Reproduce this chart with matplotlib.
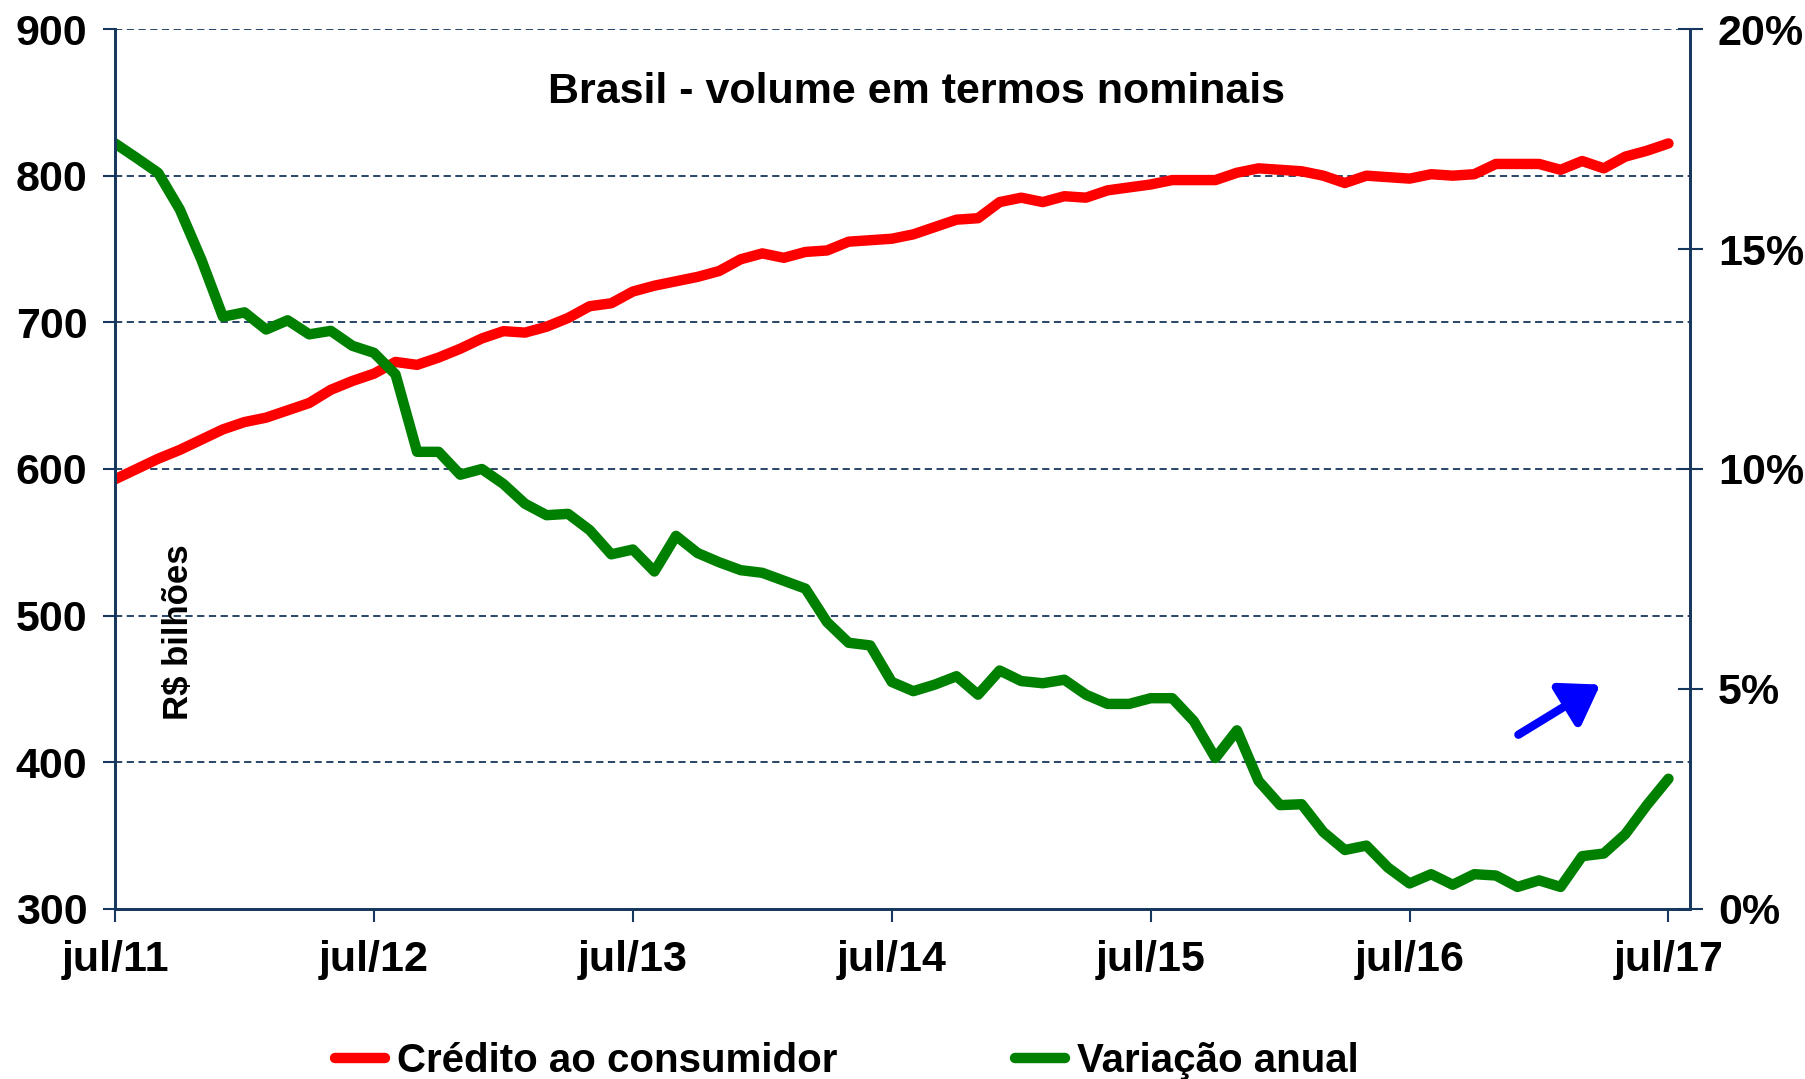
import numpy as np
import matplotlib
matplotlib.use('Agg')
import matplotlib.pyplot as plt
from matplotlib.ticker import FuncFormatter

# meses de jul/11 ate jul/17
x_labels = ['jul/11', 'jul/12', 'jul/13', 'jul/14', 'jul/15', 'jul/16', 'jul/17']

credito = [593, 600, 607, 613, 620, 627, 632, 635, 640, 645, 654, 660, 665, 673, 671,
           676, 682, 689, 694, 693, 697, 703, 711, 713, 721, 725, 728, 731, 735, 743,
           747, 744, 748, 749, 755, 756, 757, 760, 765, 770, 771, 782, 785, 782, 786,
           785, 790, 792, 794, 797, 797, 797, 802, 805, 804, 803, 800, 795, 800, 799,
           798, 801, 800, 801, 808, 808, 808, 804, 810, 805, 813, 817, 822]

variacao = [17.4, 17.07, 16.73, 15.9, 14.76, 13.46, 13.56, 13.17, 13.38, 13.06, 13.14,
            12.8, 12.64, 12.15, 10.39, 10.39, 9.87, 10.0, 9.66, 9.21, 8.95, 8.98, 8.61,
            8.06, 8.17, 7.67, 8.48, 8.09, 7.88, 7.70, 7.64, 7.46, 7.28, 6.52, 6.05, 5.99,
            5.16, 4.95, 5.10, 5.29, 4.87, 5.42, 5.18, 5.13, 5.21, 4.87, 4.66, 4.66, 4.79,
            4.79, 4.27, 3.43, 4.06, 2.91, 2.36, 2.38, 1.75, 1.34, 1.44, 0.94, 0.58, 0.79,
            0.55, 0.79, 0.76, 0.50, 0.65, 0.50, 1.20, 1.26, 1.70, 2.36, 2.96]

AZUL = '#17375E'
plt.rcParams['font.family'] = ['Liberation Sans', 'DejaVu Sans']
plt.rcParams['font.weight'] = 'bold'

meses = np.arange(len(credito))

fig = plt.figure(figsize=(18.06, 10.79), dpi=100)
ax = fig.add_axes([0.0637, 0.1576, 0.9358 - 0.0637, 0.9731 - 0.1576])
ax2 = ax.twinx()

ax.plot(meses, credito, color='#FF0000', lw=7.5, solid_capstyle='round',
        solid_joinstyle='round', label='Crédito ao consumidor')
ax2.plot(meses, variacao, color='#008000', lw=7.5, solid_capstyle='round',
         solid_joinstyle='round', label='Variação anual')

ax.set_xlim(0, 73)
ax.set_ylim(300, 900)
ax2.set_ylim(0, 20)

ax.set_xticks(np.arange(0, 73, 12))
ax.set_xticklabels(x_labels)
ax.set_yticks(np.arange(300, 901, 100))
ax2.set_yticks(np.arange(0, 21, 5))
ax2.yaxis.set_major_formatter(FuncFormatter(lambda v, p: '%d%%' % v))

for y in range(400, 901, 100):
    ax.axhline(y, color=AZUL, lw=1.3, ls=(0, (4, 2.5)), zorder=0)

for a in (ax, ax2):
    a.spines['top'].set_visible(False)
    for s in ('left', 'right', 'bottom'):
        a.spines[s].set_color(AZUL)
        a.spines[s].set_linewidth(2)

ax.tick_params(axis='y', direction='out', length=9, width=1.5, color=AZUL,
               labelsize=31, pad=11)
ax.tick_params(axis='x', direction='out', length=9, width=1.5, color=AZUL,
               labelsize=31, pad=13)
ax2.tick_params(axis='y', direction='inout', length=18, width=1.5, color=AZUL,
                labelsize=31, pad=11)

ax.text(0.509, 0.928, 'Brasil - volume em termos nominais', transform=ax.transAxes,
        ha='center', va='center', fontsize=31, fontweight='bold')
ax.text(0.040, 0.315, 'R$ bilhões', transform=ax.transAxes, rotation=90,
        ha='center', va='center', fontsize=25, fontweight='bold')

ax2.annotate('', xy=(0.943, 0.255), xytext=(0.891, 0.198), xycoords='axes fraction',
             textcoords='axes fraction',
             arrowprops=dict(arrowstyle='-|>,head_length=0.6,head_width=0.4',
                             color='#0000FF', lw=6, mutation_scale=38,
                             shrinkA=0, shrinkB=0))

h1, l1 = ax.get_legend_handles_labels()
h2, l2 = ax2.get_legend_handles_labels()
fig.legend(h1 + h2, l1 + l2, loc='center', bbox_to_anchor=(0.469, 0.017), ncol=2,
           frameon=False, fontsize=29, handlelength=1.25, handletextpad=0.3,
           columnspacing=4.4)

fig.savefig('out.png', dpi=100)
